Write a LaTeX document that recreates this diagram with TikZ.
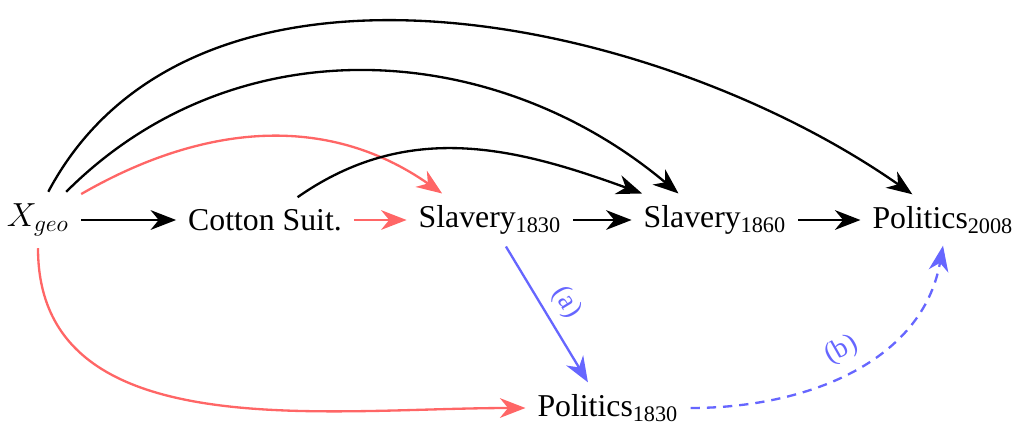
\documentclass[tikz,border=0pt]{standalone}
\usepackage{fontspec}
\setmainfont{Liberation Serif}
\usetikzlibrary{arrows.meta}
\definecolor{merah}{RGB}{255,102,102}
\definecolor{biru}{RGB}{102,102,255}
\tikzset{
  var/.style={inner sep=5pt, font=\fontsize{13.7}{16}\selectfont},
  panah/.style={line width=1pt, -{Stealth[length=11pt,width=8.5pt,inset=3.5pt]}},
  lbl/.style={font=\fontsize{12}{14}\selectfont, text=biru, inner sep=4pt},
}

\begin{document}
\begin{tikzpicture}[x=0.01515cm,y=0.01515cm]

    \useasboundingbox (0,0) rectangle (1013,426);

    % Simpul
    \node[var] (xgeo) at (38,206) {$X_{geo}$};
    \node[var] (cotton) at (265,206) {Cotton Suit.};
    \node[var] (s1830) at (490,206) {Slavery\textsubscript{1830}};
    \node[var] (s1860) at (715,206) {Slavery\textsubscript{1860}};
    \node[var] (p2008) at (943,206) {Politics\textsubscript{2008}};
    \node[var] (p1830) at (608,18) {Politics\textsubscript{1830}};

    % Panah lurus
    \draw[panah] (xgeo) -- (cotton);
    \draw[panah,merah] (cotton) -- (s1830);
    \draw[panah] (s1830) -- (s1860);
    \draw[panah] (s1860) -- (p2008);

    % Panah lengkung atas
    \draw[panah,merah] (xgeo.31) to[out=30,in=145] (s1830.151);
    \draw[panah] (xgeo.45) to[out=45,in=140] (s1860.144);
    \draw[panah] (xgeo.70) to[out=62,in=145,looseness=0.92] (p2008.140);
    \draw[panah] (cotton.35) to[out=35,in=160] (s1860.160);

    % Panah lengkung bawah
    \draw[panah,merah] (xgeo.south) to[out=-90,in=180] (p1830.west);

    % Jalur (a) dan (b)
    \draw[panah,biru] (s1830.-59) -- node[lbl,sloped,above] {(a)} (p1830.128);
    \draw[panah,biru,dash pattern=on 4pt off 3pt] (p1830.east)
        to[out=0,in=-100] node[lbl,sloped,above] {(b)} (p2008.south);

\end{tikzpicture}
\end{document}
